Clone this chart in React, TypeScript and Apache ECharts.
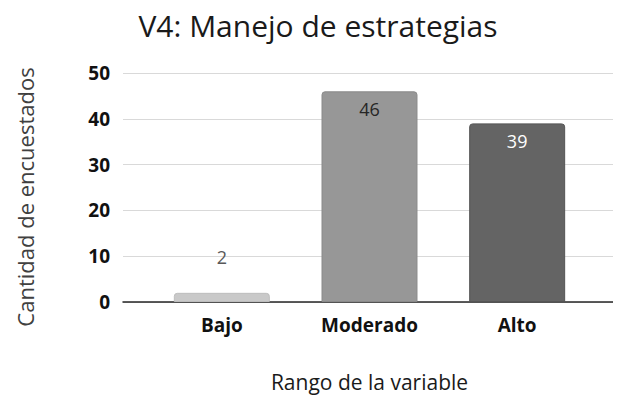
import React, { useEffect, useRef } from "react";
import * as echarts from "echarts";

const categories = ["Bajo", "Moderado", "Alto"];
const values = [2, 46, 39];
const barColors = ["#c9c9c9", "#979797", "#646464"];
const borderColors = ["#bdbdbd", "#8a8a8a", "#555555"];
const labelColors = ["#595959", "#262626", "#ffffff"];
const labelPositions = ["top", "insideTop", "insideTop"];
const labelDistances = [27, 9, 9];
const yTicks = [0, 10, 20, 30, 40, 50];

const FONT = "'Open Sans', 'Noto Sans', sans-serif";

export default function App() {
  const ref = useRef<HTMLDivElement>(null);
  useEffect(() => {
    if (!ref.current) return;
    const chart = echarts.init(ref.current, null, { renderer: "svg" });
    const yMin = yTicks[0];
    const yMax = yTicks[yTicks.length - 1];
    chart.setOption({
      animation: false,
      backgroundColor: "#ffffff",
      title: {
        text: "V4: Manejo de estrategias",
        left: 313,
        top: 5,
        textAlign: "center",
        textStyle: { fontFamily: FONT, fontSize: 30, fontWeight: "normal", color: "#1a1a1a" },
      },
      graphic: [
        {
          type: "text",
          x: 25,
          y: 197,
          rotation: Math.PI / 2,
          style: {
            text: "Cantidad de encuestados",
            fontFamily: FONT,
            fontSize: 22,
            fill: "#404040",
            align: "center",
            verticalAlign: "middle",
          },
        },
      ],
      grid: [
        { left: 123, right: 6, top: 73, bottom: 102 },
        { left: 148, right: 30, top: 73, bottom: 102 },
      ],
      xAxis: [
        {
          type: "category",
          gridIndex: 0,
          data: categories,
          axisLine: { lineStyle: { color: "#262626", width: 1.5 } },
          axisTick: { show: false },
          axisLabel: { show: false },
        },
        {
          type: "category",
          gridIndex: 1,
          data: categories,
          name: "Rango de la variable",
          nameLocation: "middle",
          nameGap: 69,
          nameTextStyle: { fontFamily: FONT, fontSize: 21, color: "#1a1a1a" },
          axisLine: { show: false },
          axisTick: { show: false },
          axisLabel: {
            fontFamily: FONT,
            fontSize: 19,
            fontWeight: "bold",
            color: "#111111",
            margin: 13,
          },
        },
      ],
      yAxis: [
        {
          type: "value",
          gridIndex: 0,
          min: yMin,
          max: yMax,
          interval: 10,
          axisLine: { show: false },
          axisTick: { show: false },
          splitLine: { lineStyle: { color: "#d9d9d9", width: 1.2 } },
          axisLabel: {
            fontFamily: FONT,
            fontSize: 19,
            fontWeight: "bold",
            color: "#111111",
            margin: 13,
          },
        },
        {
          type: "value",
          gridIndex: 1,
          min: yMin,
          max: yMax,
          interval: 10,
          show: false,
        },
      ],
      series: [
        {
          type: "bar",
          xAxisIndex: 1,
          yAxisIndex: 1,
          barWidth: "65%",
          data: values.map((v, i) => ({
            value: v,
            itemStyle: {
              color: barColors[i],
              borderColor: borderColors[i],
              borderWidth: 1,
              borderRadius: [3, 3, 0, 0],
            },
            label: {
              show: true,
              position: labelPositions[i],
              distance: labelDistances[i],
              color: labelColors[i],
              fontFamily: FONT,
              fontSize: 18,
            },
          })),
        },
      ],
    });
    return () => chart.dispose();
  }, []);
  return <div ref={ref} style={{ width: 621, height: 404, margin: -8 }} />;
}
